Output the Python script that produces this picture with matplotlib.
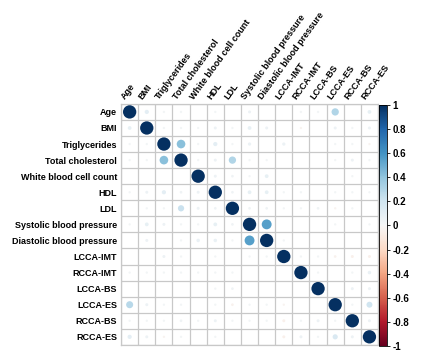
import numpy as np
import matplotlib.pyplot as plt
from matplotlib.colors import Normalize

labels = ['Age', 'BMI', 'Triglycerides', 'Total cholesterol', 'White blood cell count',
          'HDL', 'LDL', 'Systolic blood pressure', 'Diastolic blood pressure',
          'LCCA-IMT', 'RCCA-IMT', 'LCCA-BS', 'LCCA-ES', 'RCCA-BS', 'RCCA-ES']

# correlation values
r_age   = [1.00, 0.10, 0.03, 0.03, 0.00, 0.03, 0.00, 0.05, 0.00, 0.00, 0.03, 0.03, 0.30, 0.00, 0.08]
r_bmi   = [0.08, 1.00, 0.03, 0.03, 0.03, 0.05, 0.03, 0.08, 0.05, 0.00, -0.03, 0.00, 0.05, 0.03, 0.05]
r_trig  = [0.03, 0.03, 1.00, 0.42, 0.03, 0.10, 0.03, 0.06, 0.00, 0.06, 0.00, 0.00, 0.03, 0.03, -0.03]
r_tc    = [0.03, 0.03, 0.42, 1.00, 0.03, 0.05, 0.30, 0.03, 0.03, 0.00, 0.00, 0.00, 0.03, 0.05, 0.03]
r_wbc   = [0.00, 0.00, 0.00, 0.00, 1.00, 0.05, 0.04, 0.03, 0.08, 0.00, 0.00, 0.00, 0.00, 0.03, 0.00]
r_hdl   = [0.03, 0.05, 0.10, 0.04, 0.05, 1.00, 0.04, 0.08, 0.08, 0.03, 0.03, 0.00, 0.03, 0.03, 0.03]
r_ldl   = [0.00, 0.03, 0.03, 0.22, 0.05, 0.04, 1.00, 0.04, 0.04, 0.03, 0.03, 0.04, -0.03, 0.03, 0.00]
r_sbp   = [0.03, 0.08, 0.05, 0.03, 0.03, 0.08, 0.04, 1.00, 0.55, 0.00, 0.00, 0.00, 0.03, 0.00, 0.03]
r_dbp   = [0.00, 0.05, 0.00, 0.03, 0.07, 0.07, 0.03, 0.55, 1.00, 0.03, 0.00, 0.00, 0.00, 0.00, 0.00]
r_limt  = [0.00, 0.00, 0.05, 0.03, 0.00, 0.03, 0.00, 0.03, 0.03, 1.00, 0.03, 0.03, -0.04, -0.05, -0.05]
r_rimt  = [0.03, 0.03, 0.03, 0.03, 0.03, 0.03, 0.03, 0.00, 0.00, 0.00, 1.00, 0.03, 0.00, 0.03, 0.07]
r_lbs   = [0.00, 0.00, 0.00, 0.00, 0.00, 0.03, 0.04, 0.00, 0.00, 0.00, 0.00, 1.00, 0.00, 0.05, 0.05]
r_les   = [0.28, 0.05, 0.03, 0.03, 0.00, 0.03, -0.04, 0.03, 0.03, -0.03, 0.00, 0.00, 1.00, 0.03, 0.20]
r_rbs   = [0.03, 0.03, 0.03, 0.04, 0.03, 0.05, 0.03, 0.03, 0.03, -0.05, 0.03, 0.05, 0.03, 1.00, 0.05]
r_res   = [0.10, 0.05, -0.03, 0.03, 0.00, 0.03, 0.00, 0.00, 0.00, -0.05, 0.05, 0.03, 0.15, 0.05, 1.00]

corr = np.array([r_age, r_bmi, r_trig, r_tc, r_wbc, r_hdl, r_ldl, r_sbp, r_dbp,
                 r_limt, r_rimt, r_lbs, r_les, r_rbs, r_res])
n = len(labels)

plt.rcParams['font.family'] = ['Liberation Sans', 'DejaVu Sans']
fig = plt.figure(figsize=(4.34, 3.57), dpi=100)
ax = fig.add_axes([0.279, 0.034, 0.592, 0.675])
cax = fig.add_axes([0.873, 0.031, 0.019, 0.675])

xx, yy = np.meshgrid(np.arange(n), np.arange(n))
vals = corr.ravel()
norm = Normalize(-1, 1)
sc = ax.scatter(xx.ravel(), yy.ravel(), s=92 * np.abs(vals), c=vals,
                cmap='RdBu', norm=norm, linewidths=0, zorder=3)

ax.set_xlim(-0.5, n - 0.5)
ax.set_ylim(n - 0.5, -0.5)
ax.set_xticks(np.arange(-0.5, n, 1), minor=True)
ax.set_yticks(np.arange(-0.5, n, 1), minor=True)
ax.grid(which='minor', color='#c8c8c8', linewidth=0.9)
ax.tick_params(which='both', length=0)
for s in ax.spines.values():
    s.set_color('#c8c8c8')
    s.set_linewidth(0.9)

ax.set_yticks(np.arange(n))
ax.set_yticklabels(labels, fontsize=6.5, fontweight='bold')
ax.set_xticks(np.arange(n))
ax.set_xticklabels([])
ax.tick_params(axis='y', pad=3)
# rotated column names above the grid
for i, lab in enumerate(labels):
    ax.text(i - 0.15, -0.65, lab, rotation=54, ha='left', va='bottom',
            rotation_mode='anchor', fontsize=6.5, fontweight='bold')

cb = fig.colorbar(sc, cax=cax, ticks=np.arange(-1, 1.01, 0.2))
cb.ax.set_yticklabels(['-1', '-0.8', '-0.6', '-0.4', '-0.2', '0', '0.2', '0.4', '0.6', '0.8', '1'],
                      fontsize=7, fontweight='bold')
cb.ax.tick_params(length=2, width=0.6, pad=2)
cb.outline.set_linewidth(0.6)

fig.savefig('out.png', dpi=100)
